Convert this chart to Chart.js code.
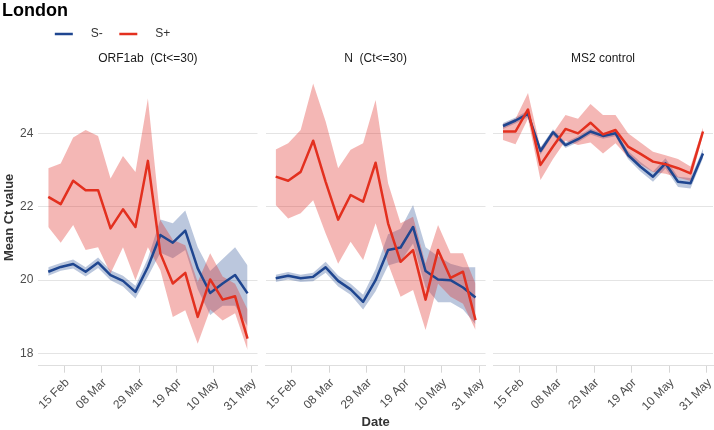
<!DOCTYPE html>
<html>
<head>
<meta charset="utf-8">
<title>London</title>
<script src="https://cdn.jsdelivr.net/npm/chart.js@4.4.1/dist/chart.umd.min.js"></script>
<style>
  html, body { margin: 0; padding: 0; background: #fff; }
  #wrap { position: relative; width: 714px; height: 430px; }
  #wrap canvas { position: absolute; left: 0; top: 0; }
</style>
</head>
<body>
<div id="wrap">
  <canvas id="orf" width="714" height="430"></canvas>
  <canvas id="ngene" width="714" height="430"></canvas>
  <canvas id="ms2" width="714" height="430"></canvas>
</div>
<script>
(function() {

    "use strict";

    // weekly samples
    const weekDates = ['2021-02-06', '2021-02-13', '2021-02-20', '2021-02-27', '2021-03-06', '2021-03-13',
        '2021-03-20', '2021-03-27', '2021-04-03', '2021-04-10', '2021-04-17', '2021-04-24',
        '2021-05-01', '2021-05-08', '2021-05-15', '2021-05-22', '2021-05-29'];
    const tickDates = ['2021-02-15', '2021-03-08', '2021-03-29', '2021-04-19', '2021-05-10', '2021-05-31'];
    const tickLabels = ['15 Feb', '08 Mar', '29 Mar', '19 Apr', '10 May', '31 May'];
    const yTicks = [18, 20, 22, 24];

    // ORF1ab (Ct<=30)
    const orfNeg = [20.23, 20.36, 20.44, 20.23, 20.48, 20.14, 19.98, 19.68, 20.36, 21.23, 21.02, 21.35, 20.32, 19.65, 19.91, 20.14, 19.64];
    const orfNegLow = [20.12, 20.26, 20.32, 20.10, 20.33, 20.00, 19.83, 19.50, 20.10, 20.75, 20.60, 20.82, 19.75, 19.05, 19.30, 19.30, 18.75];
    const orfNegHigh = [20.35, 20.47, 20.56, 20.35, 20.62, 20.27, 20.12, 19.85, 20.60, 21.65, 21.55, 21.90, 20.90, 20.25, 20.58, 20.90, 20.40];
    const orfPos = [22.27, 22.07, 22.71, 22.45, 22.45, 21.41, 21.93, 21.45, 23.25, 20.73, 19.91, 20.20, 19.00, 20.02, 19.47, 19.56, 18.41];
    const orfPosLow = [21.45, 21.02, 21.50, 20.82, 20.90, 20.18, 20.90, 20.00, 20.90, 20.27, 19.00, 19.18, 18.27, 19.20, 18.90, 19.10, 18.10];
    const orfPosHigh = [23.05, 23.18, 23.89, 24.09, 23.93, 22.77, 23.38, 22.95, 24.95, 21.64, 21.10, 20.95, 19.95, 20.73, 20.10, 19.90, 19.20];

    // N (Ct<=30)
    const nNeg = [20.05, 20.12, 20.05, 20.09, 20.35, 19.98, 19.75, 19.41, 20.00, 20.82, 20.89, 21.45, 20.25, 20.02, 20.00, 19.80, 19.53];
    const nNegLow = [19.95, 20.02, 19.95, 19.97, 20.20, 19.83, 19.60, 19.20, 19.70, 20.40, 20.50, 21.00, 19.80, 19.40, 19.40, 19.20, 18.80];
    const nNegHigh = [20.15, 20.22, 20.15, 20.20, 20.50, 20.13, 19.90, 19.60, 20.30, 21.25, 21.40, 22.05, 20.90, 20.65, 20.45, 20.35, 20.35];
    const nPos = [22.82, 22.71, 22.95, 23.80, 22.68, 21.65, 22.32, 22.14, 23.20, 21.55, 20.50, 20.82, 19.47, 20.82, 20.06, 20.23, 18.91];
    const nPosLow = [22.05, 21.68, 21.82, 22.18, 21.27, 20.45, 21.05, 20.55, 21.55, 20.45, 19.55, 19.73, 18.64, 19.90, 19.55, 19.36, 18.64];
    const nPosHigh = [23.56, 23.73, 24.09, 25.36, 24.32, 23.05, 23.55, 23.73, 24.91, 22.64, 21.55, 21.73, 20.45, 21.50, 20.73, 20.73, 19.90];

    // MS2 control
    const msNeg = [24.20, 24.35, 24.53, 23.52, 24.03, 23.68, 23.84, 24.05, 23.93, 24.00, 23.41, 23.09, 22.82, 23.18, 22.68, 22.64, 23.45];
    const msNegLow = [24.12, 24.27, 24.44, 23.42, 23.95, 23.60, 23.76, 23.97, 23.85, 23.92, 23.30, 22.96, 22.68, 23.04, 22.54, 22.50, 23.32];
    const msNegHigh = [24.28, 24.43, 24.62, 23.62, 24.11, 23.76, 23.92, 24.13, 24.01, 24.08, 23.52, 23.22, 22.96, 23.32, 22.82, 22.78, 23.58];
    const msPos = [24.05, 24.05, 24.65, 23.14, 23.64, 24.12, 24.00, 24.29, 23.97, 24.09, 23.64, 23.44, 23.23, 23.16, 23.05, 22.91, 24.05];
    const msPosLow = [23.82, 23.70, 24.40, 22.73, 23.30, 23.80, 23.68, 23.75, 23.45, 23.73, 23.35, 23.15, 22.95, 22.90, 22.80, 22.70, 23.95];
    const msPosHigh = [24.25, 24.40, 25.10, 23.60, 24.00, 24.50, 24.40, 24.80, 24.50, 24.50, 24.00, 23.75, 23.50, 23.40, 23.30, 23.10, 24.15];

    const blue = '#1f4690',
        red = '#e3301f',
        blueFill = 'rgba(31, 70, 144, 0.3)',
        redFill = 'rgba(224, 48, 42, 0.35)',
        none = 'rgba(0, 0, 0, 0)';

    Chart.defaults.font.family = '"Liberation Sans", Arial, sans-serif';

    function dayNum(s) {
        return Date.UTC(+s.slice(0, 4), +s.slice(5, 7) - 1, +s.slice(8, 10)) / 864e5;
    }

    function points(vals) {
        return weekDates.map((d, i) => ({x: dayNum(d), y: vals[i]}));
    }

    // legend key: a short line with some room after it
    function legendLine(color) {
        const c = document.createElement('canvas');
        c.width = 39;
        c.height = 6;
        const g = c.getContext('2d');
        g.strokeStyle = color;
        g.lineWidth = 2.5;
        g.beginPath();
        g.moveTo(9, 3);
        g.lineTo(27, 3);
        g.stroke();
        return c;
    }

    function panelDatasets(neg, negLow, negHigh, pos, posLow, posHigh) {
        return [
            {label: 'S-', data: points(neg), borderColor: blue, borderWidth: 2.5, order: 1},
            {label: 'S+', data: points(pos), borderColor: red, borderWidth: 2.5, order: 0},
            {label: '', data: points(negLow), borderColor: none, borderWidth: 0, order: 3},
            {label: '', data: points(negHigh), borderColor: none, borderWidth: 0, backgroundColor: blueFill, fill: '-1', order: 3},
            {label: '', data: points(posLow), borderColor: none, borderWidth: 0, order: 2},
            {label: '', data: points(posHigh), borderColor: none, borderWidth: 0, backgroundColor: redFill, fill: '-1', order: 2}
        ];
    }

    function makePanel(id, strip, datasets, cfg) {
        return new Chart(document.getElementById(id), {
            type: 'line',
            data: {datasets: datasets},
            options: {
                responsive: false,
                animation: false,
                events: [],
                layout: {padding: cfg.padding},
                elements: {
                    point: {radius: 0},
                    line: {borderJoinStyle: 'round', tension: 0}
                },
                scales: {
                    x: {
                        type: 'linear',
                        min: dayNum(weekDates[0]) - 5.6,
                        max: dayNum(weekDates[weekDates.length - 1]) + 5.6,
                        afterBuildTicks: s => { s.ticks = tickDates.map(d => ({value: dayNum(d)})); },
                        afterFit: s => { s.height = 64.3; s.paddingLeft = 0; s.paddingRight = 0; },
                        ticks: {
                            autoSkip: false,
                            maxRotation: 45,
                            minRotation: 45,
                            padding: 3,
                            labelOffset: 3,
                            font: {size: 12},
                            color: '#4d4d4d',
                            callback: (v, i) => tickLabels[i]
                        },
                        grid: {drawOnChartArea: false, drawTicks: true, tickLength: 7, color: '#d6d6d6'},
                        border: {display: true, color: '#dedede'},
                        title: {
                            display: !!cfg.xTitle,
                            text: 'Date',
                            font: {size: 13, weight: 'bold'},
                            color: '#333',
                            padding: {top: 0, bottom: 0}
                        }
                    },
                    y: {
                        min: 17.67,
                        max: 25.75,
                        afterBuildTicks: s => { s.ticks = yTicks.map(v => ({value: v})); },
                        afterFit: s => { s.width = cfg.yWidth; },
                        ticks: {display: !!cfg.yTitle, padding: 5, font: {size: 12}, color: '#4d4d4d'},
                        grid: {color: '#e4e4e4', drawTicks: false},
                        border: {display: false},
                        title: {
                            display: !!cfg.yTitle,
                            text: 'Mean Ct value',
                            font: {size: 13, weight: 'bold'},
                            color: '#333',
                            padding: {top: 0, bottom: 0}
                        }
                    }
                },
                plugins: {
                    tooltip: {enabled: false},
                    title: {
                        display: !!cfg.mainTitle,
                        text: 'London',
                        align: 'start',
                        fullSize: true,
                        font: {size: 18, weight: 'bold', lineHeight: 1},
                        color: '#000',
                        padding: {top: 2.5, bottom: 0}
                    },
                    legend: {
                        display: !!cfg.legend,
                        position: 'top',
                        align: 'start',
                        fullSize: false,
                        weight: 1800,
                        labels: {
                            usePointStyle: true,
                            pointStyleWidth: 39,
                            padding: 7.5,
                            font: {size: 12},
                            color: '#333',
                            generateLabels: chart => Chart.defaults.plugins.legend.labels.generateLabels(chart)
                                .filter(it => it.text)
                                .sort((a, b) => a.datasetIndex - b.datasetIndex)
                                .map(it => { it.pointStyle = legendLine(it.strokeStyle); return it; })
                        }
                    },
                    subtitle: {
                        display: true,
                        text: strip,
                        fullSize: false,
                        font: {size: 12},
                        color: '#1a1a1a',
                        padding: {top: 1.8, bottom: 2.9}
                    }
                }
            }
        });
    }

    makePanel('orf', 'ORF1ab  (Ct<=30)',
        panelDatasets(orfNeg, orfNegLow, orfNegHigh, orfPos, orfPosLow, orfPosHigh),
        {padding: {left: 2, right: 456.5, top: 0, bottom: 0}, yWidth: 36.3, yTitle: true, mainTitle: true, legend: true});

    makePanel('ngene', 'N  (Ct<=30)',
        panelDatasets(nNeg, nNegLow, nNegHigh, nPos, nPosLow, nPosHigh),
        {padding: {left: 265.7, right: 228.5, top: 50, bottom: 0}, yWidth: 0, xTitle: true});

    makePanel('ms2', 'MS2 control',
        panelDatasets(msNeg, msNegLow, msNegHigh, msPos, msPosLow, msPosHigh),
        {padding: {left: 493, right: 1, top: 50, bottom: 0}, yWidth: 0});
})();
</script>
</body>
</html>
